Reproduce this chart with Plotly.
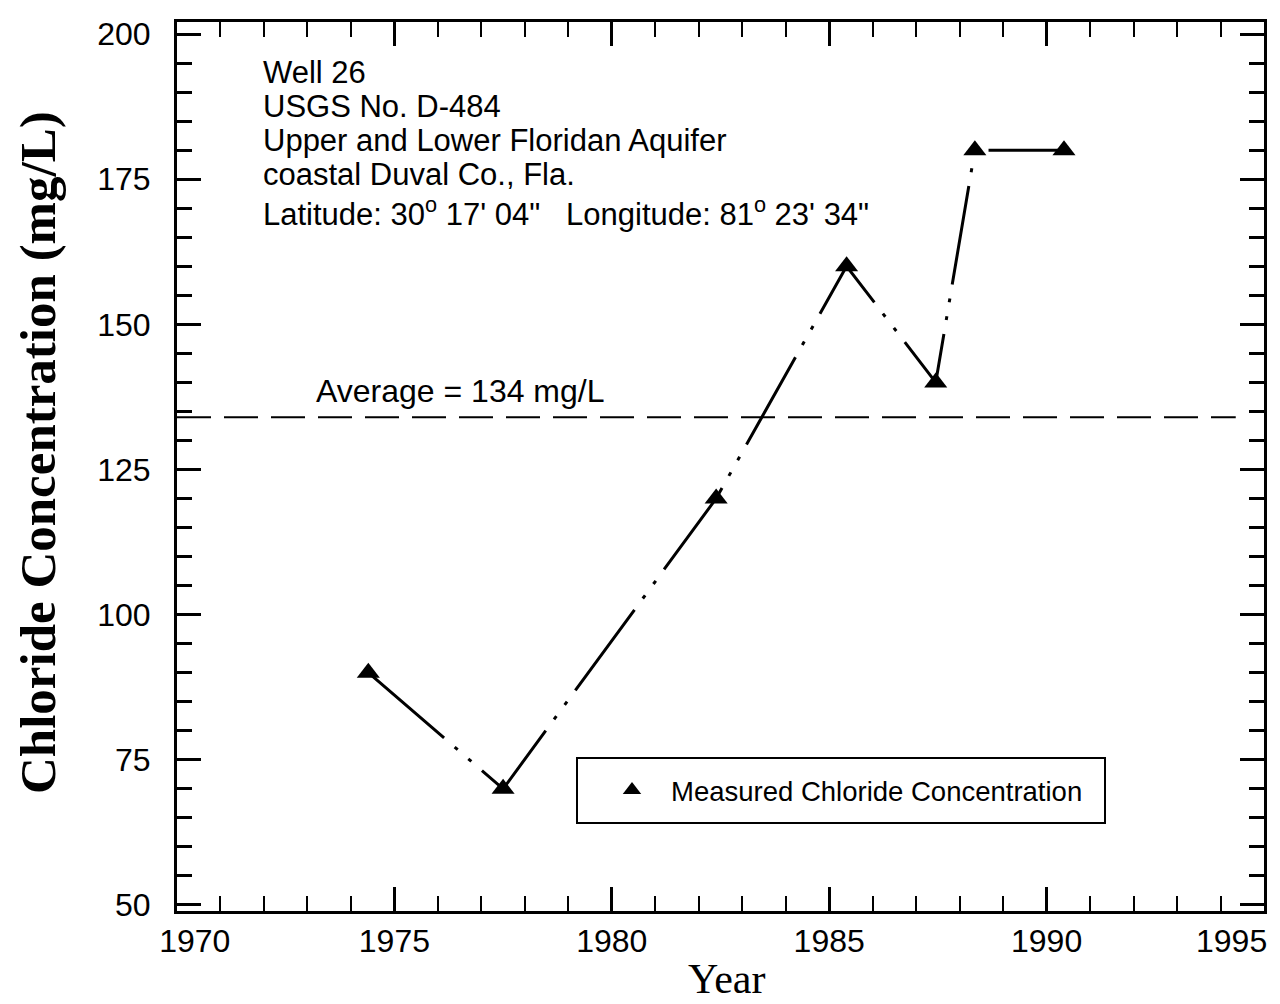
import plotly.graph_objects as go

# ---- data ----
years = [1974.4, 1977.5, 1982.4, 1985.4, 1987.45, 1988.35, 1990.4]
chloride = [90, 70, 120, 160, 140, 180, 180]
average_value = 134
average_span = [1970, 1994.35]
x_major_ticks = [1970, 1975, 1980, 1985, 1990, 1995]
x_tick_labels = ["\u00a0\u00a0\u00a0\u00a01970", "1975", "1980", "1985", "1990", ""]
x_last_label = "1995"
y_major_ticks = [50, 75, 100, 125, 150, 175, 200]
info_lines = [
    "Well 26",
    "USGS No. D-484",
    "Upper and Lower Floridan Aquifer",
    "coastal Duval Co., Fla.",
    "Latitude: 30<sup>o</sup> 17' 04\"   Longitude: 81<sup>o</sup> 23' 34\"",
]
info_line_px = [72, 105, 139, 174, 211]   # vertical page-pixel centre of each text line
legend_name = "Measured Chloride Concentration"
avg_label = "Average = 134 mg/L"
x_title = "Year"
y_title = "Chloride Concentration (mg/L)"

# the page body has a small margin, so the figure is drawn a few px in from the corner
OFF = 7
W, H = 1280 - OFF, 1004 - OFF
# plot area in page pixels: left 176, right 1263, top 21, bottom 910
PL, PR, PT, PB = 176, 1263, 21, 910
L, T = PL - OFF, PT - OFF
R, B = W - (PR - OFF), H - (PB - OFF)
pw, ph = PR - PL, PB - PT

sans = "Arial, Liberation Sans, sans-serif"
serif = "Times New Roman, Liberation Serif, serif"


def px_x(px):
    return (px - PL) / pw


def px_y(py):
    return (PB - py) / ph


fig = go.Figure()

# connecting line (dash-dot-dot)
fig.add_trace(go.Scatter(
    x=years, y=chloride, mode="lines",
    line=dict(color="black", width=3, dash="100px,14px,4px,14px,4px,14px"),
    showlegend=False, hoverinfo="skip",
))
# markers
fig.add_trace(go.Scatter(
    x=years, y=chloride, mode="markers", name=legend_name,
    marker=dict(symbol="triangle-up", size=20, color="black"),
    showlegend=True,
))
# average line
fig.add_trace(go.Scatter(
    x=average_span, y=[average_value, average_value], mode="lines",
    line=dict(color="black", width=2, dash="34px,13px"),
    showlegend=False, hoverinfo="skip",
))

axis_common = dict(
    showline=True, linecolor="black", linewidth=3, mirror="ticks",
    ticks="inside", ticklen=24, tickwidth=2.5, tickcolor="black",
    showgrid=False, zeroline=False, automargin=False,
    tickfont=dict(family=sans, size=32, color="black"),
)

fig.update_xaxes(
    range=[1970, 1995], tickvals=x_major_ticks, ticktext=x_tick_labels,
    minor=dict(dtick=1, ticks="inside", ticklen=15, tickwidth=2, tickcolor="black", showgrid=False),
    **axis_common,
)
fig.update_yaxes(
    range=[48.96, 202.07], tickvals=y_major_ticks,
    ticklabeloverflow="allow",
    minor=dict(dtick=5, ticks="inside", ticklen=15, tickwidth=2.5, tickcolor="black", showgrid=False),
    ticklabelstandoff=17,
    **axis_common,
)

# last x tick label, kept inside the page (right-aligned at the axis end)
fig.add_annotation(
    x=x_major_ticks[-1], xref="x", yref="paper", y=px_y(940),
    xanchor="right", yanchor="middle", xshift=4, showarrow=False, borderpad=0,
    text=x_last_label, font=dict(family=sans, size=32, color="black"),
)

# axis titles
fig.add_annotation(
    xref="paper", yref="paper", x=px_x(725), y=px_y(978),
    xanchor="center", yanchor="middle", showarrow=False, text=x_title,
    font=dict(family=serif, size=42, color="black"),
)
fig.add_annotation(
    xref="paper", yref="paper", x=px_x(37), y=px_y(452),
    xanchor="center", yanchor="middle", showarrow=False, textangle=-90,
    text="<b>" + y_title + "</b>",
    font=dict(family=serif, size=51, color="black"),
)

# info text block, one line each
for line, py in zip(info_lines, info_line_px):
    fig.add_annotation(
        xref="paper", yref="paper", x=px_x(261), y=px_y(py),
        xanchor="left", yanchor="middle", showarrow=False, borderpad=0,
        text=line, font=dict(family=sans, size=31, color="black"),
    )
# average label
fig.add_annotation(
    xref="paper", yref="paper", x=px_x(314), y=px_y(390),
    xanchor="left", yanchor="middle", showarrow=False, borderpad=0,
    text=avg_label, font=dict(family=sans, size=32, color="black"),
)

# legend box
fig.add_shape(
    type="rect", xref="paper", yref="paper",
    x0=px_x(576), x1=px_x(1104), y0=px_y(822), y1=px_y(757),
    line=dict(color="black", width=2), fillcolor="rgba(0,0,0,0)",
)

fig.update_layout(
    width=W, height=H,
    margin=dict(l=L, r=R, t=T, b=B, autoexpand=False),
    paper_bgcolor="white", plot_bgcolor="white",
    legend=dict(
        x=px_x(592), y=px_y(789), xanchor="left", yanchor="middle",
        bgcolor="rgba(0,0,0,0)", borderwidth=0,
        font=dict(family=sans, size=27.5, color="black"),
        itemwidth=68,
    ),
)

fig.write_html("out.html")
